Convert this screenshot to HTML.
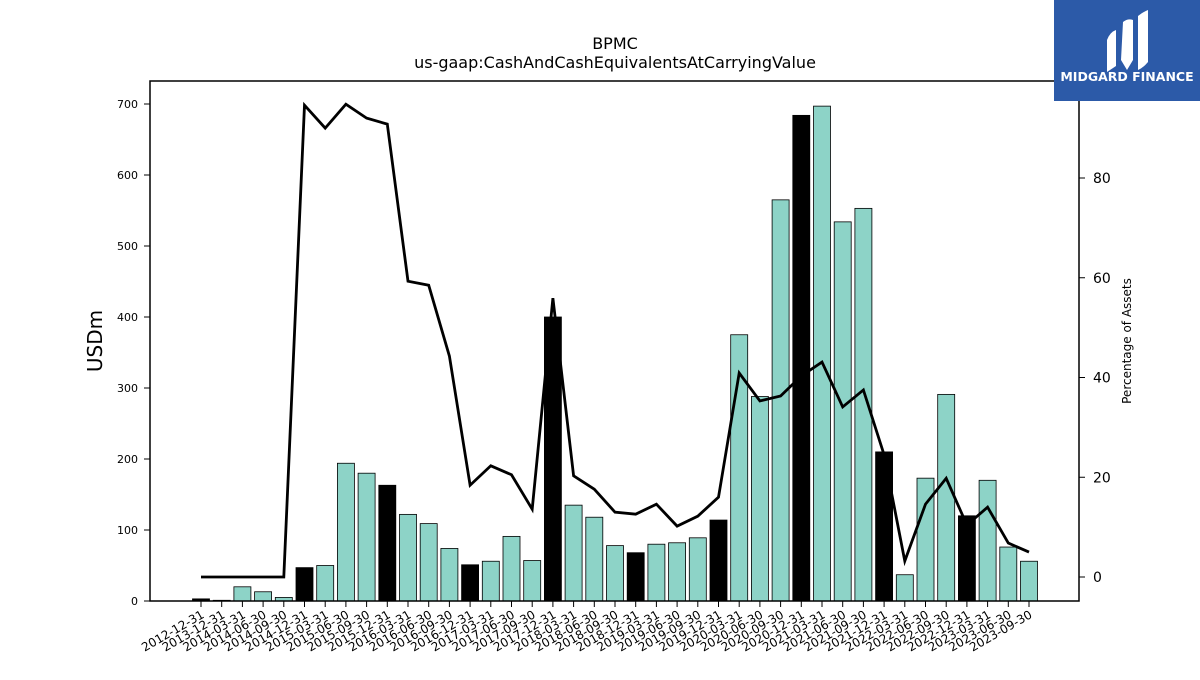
<!DOCTYPE html>
<html><head><meta charset="utf-8"><style>
body{margin:0;background:#fff;font-family:"Liberation Sans","DejaVu Sans",sans-serif}
svg text{font-family:"DejaVu Sans","Liberation Sans",sans-serif}
</style></head><body>
<svg id="c" width="1200" height="675" viewBox="0 0 1200 675" xmlns="http://www.w3.org/2000/svg">
<text x="615" y="49" text-anchor="middle" font-size="16">BPMC</text>
<text x="615" y="68" text-anchor="middle" font-size="16">us-gaap:CashAndCashEquivalentsAtCarryingValue</text>
<g id="bars"></g>
<g id="line"></g>
<rect x="150" y="81" width="929" height="520" fill="none" stroke="#000" stroke-width="1.5"/>
<g id="yl"></g>
<g id="yr"></g>
<g id="xa"></g>
<text transform="translate(102,341) rotate(-90)" text-anchor="middle" font-size="20">USDm</text>
<text transform="translate(1131,341) rotate(-90)" text-anchor="middle" font-size="12">Percentage of Assets</text>
<g>
<rect x="1054" y="0" width="146" height="101" fill="#2c5aa8"/>
<path d="M1107 40 Q1110 32 1116 30 L1116 66 Q1110 70 1107 72 Z M1123 22 Q1128 18 1133 20 L1133 60 L1127 70 L1121 60 Z M1138 16 Q1143 12 1148 10 L1148 62 Q1143 68 1138 70 Z" fill="#fff"/>
<text x="1127" y="81" text-anchor="middle" font-size="12.5" font-weight="bold" fill="#fff" font-family="Liberation Sans">MIDGARD FINANCE</text>
</g>
</svg>
<script>
const categories=["2012-12-31","2013-12-31","2014-03-31","2014-06-30","2014-09-30","2014-12-31","2015-03-31","2015-06-30","2015-09-30","2015-12-31","2016-03-31","2016-06-30","2016-09-30","2016-12-31","2017-03-31","2017-06-30","2017-09-30","2017-12-31","2018-03-31","2018-06-30","2018-09-30","2018-12-31","2019-03-31","2019-06-30","2019-09-30","2019-12-31","2020-03-31","2020-06-30","2020-09-30","2020-12-31","2021-03-31","2021-06-30","2021-09-30","2021-12-31","2022-03-31","2022-06-30","2022-09-30","2022-12-31","2023-03-31","2023-06-30","2023-09-30"];
const cashValues=[3,1,20,13,5,47,50,194,180,163,122,109,74,51,56,91,57,400,135,118,78,68,80,82,89,114,375,288,565,684,697,534,553,210,37,173,291,120,170,76,56];
const pctAssets=[0,0,0,0,0,94.6,90,94.8,92,90.8,59.3,58.5,44.3,18.4,22.3,20.5,13.6,55.9,20.3,17.6,13,12.6,14.6,10.2,12.2,16,40.9,35.3,36.3,40.3,43.1,34.1,37.5,24.5,3.2,14.6,19.8,10.4,14,6.8,5];
const leftTicks=[0,100,200,300,400,500,600,700];
const rightTicks=[0,20,40,60,80];
const NS="http://www.w3.org/2000/svg";
function mk(t,a,p){const e=document.createElementNS(NS,t);for(const k in a)e.setAttribute(k,a[k]);p.appendChild(e);return e;}
const x=i=>201+i*(1029-201)/(categories.length-1);
const yL=v=>601-v*0.71;
const yR=p=>577-p*4.9875;
const bw=17;
const bars=document.getElementById('bars');
cashValues.forEach((v,i)=>{
 const ye=categories[i].endsWith("12-31");
 const r=mk('rect',{x:x(i)-bw/2,y:yL(v),width:bw,height:601-yL(v),fill:ye?'#000':'#8dd3c7',stroke:'#000','stroke-width':0.8},bars);
 
 
});
const lg=document.getElementById('line');
const pl=mk('polyline',{points:pctAssets.map((p,i)=>x(i)+','+yR(p)).join(' '),fill:'none',stroke:'#000','stroke-width':2.8},lg);


const yl=document.getElementById('yl');
leftTicks.forEach(t=>{
 const l=mk('line',{x1:144,x2:150,y1:yL(t),y2:yL(t),stroke:'#000'},yl);
 
 
 const tx=mk('text',{x:138,y:yL(t)+4,'text-anchor':'end','font-size':11},yl);
 tx.textContent=t;
 
 
});
const yr=document.getElementById('yr');
rightTicks.forEach(t=>{
 const l=mk('line',{x1:1079,x2:1085,y1:yR(t),y2:yR(t),stroke:'#000'},yr);
 
 
 const tx=mk('text',{x:1093,y:yR(t)+5,'font-size':14},yr);
 tx.textContent=t;
 
 
});
const xa=document.getElementById('xa');
categories.forEach((c,i)=>{
 const l=mk('line',{x1:x(i),x2:x(i),y1:601,y2:607,stroke:'#000'},xa);
 
 
 const tx=mk('text',{transform:`translate(${x(i)+4},${617}) rotate(-30)`,'text-anchor':'end','font-size':12},xa);
 tx.textContent=c;
 
 
});
</script>
</body></html>
